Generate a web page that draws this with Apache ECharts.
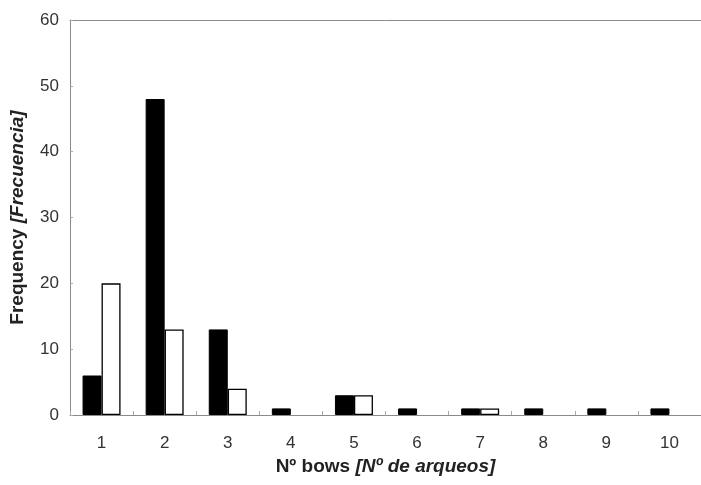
<!DOCTYPE html>
<html>
<head>
<meta charset="utf-8">
<script src="https://cdn.jsdelivr.net/npm/echarts@6/dist/echarts.min.js"></script>
<style>html,body{margin:0;padding:0;background:#fff}#c{width:701px;height:485px}</style>
</head>
<body>
<div id="c"></div>
<script>
var categories = ['1','2','3','4','5','6','7','8','9','10'];
var blackSeries = [6, 48, 13, 1, 3, 1, 1, 1, 1, 1];
var whiteSeries = [20, 13, 4, null, 3, null, 1, null, null, null];
var yTicks = {min: 0, max: 60, interval: 10};

var chart = echarts.init(document.getElementById('c'), null, {renderer: 'canvas'});
var font = 'Liberation Sans, Arial, sans-serif';
chart.setOption({
  animation: false,
  grid: {left: 70, right: 0, top: 20, bottom: 70},
  xAxis: [{
    type: 'category',
    data: categories,
    position: 'bottom',
    axisLine: {lineStyle: {color: '#8a8a8a', width: 1}},
    axisTick: {show: true, inside: true, length: 4, lineStyle: {color: '#aaa'}},
    axisLabel: {color: '#333', fontSize: 17, fontFamily: font, margin: 20},
    name: 'Nº bows {i|[Nº de arqueos]}',
    nameLocation: 'middle',
    nameGap: 38,
    nameTextStyle: {
      color: '#222', fontSize: 19, fontWeight: 'bold', fontFamily: font,
      rich: {i: {fontStyle: 'italic', fontWeight: 'bold', fontSize: 19, fontFamily: font, color: '#222'}}
    }
  }, {
    type: 'category',
    data: categories,
    position: 'top',
    axisLine: {lineStyle: {color: '#8a8a8a', width: 1}},
    axisTick: {show: false},
    axisLabel: {show: false}
  }],
  yAxis: {
    type: 'value',
    min: yTicks.min, max: yTicks.max, interval: yTicks.interval,
    axisLine: {show: true, lineStyle: {color: '#8a8a8a', width: 1}},
    axisTick: {show: true, inside: true, length: 3, lineStyle: {color: '#aaa'}},
    splitLine: {show: false},
    axisLabel: {color: '#333', fontSize: 17, fontFamily: font, margin: 11},
    name: 'Frequency {i|[Frecuencia]}',
    nameLocation: 'middle',
    nameGap: 43,
    nameTextStyle: {
      color: '#222', fontSize: 19, fontWeight: 'bold', fontFamily: font,
      rich: {i: {fontStyle: 'italic', fontWeight: 'bold', fontSize: 19, fontFamily: font, color: '#222'}}
    }
  },
  series: [{
    type: 'bar',
    data: blackSeries,
    barWidth: 19,
    barGap: '0%',
    itemStyle: {color: '#000', borderColor: '#000', borderWidth: 1}
  }, {
    type: 'bar',
    data: whiteSeries,
    barWidth: 19,
    barGap: '0%',
    itemStyle: {color: '#fff', borderColor: '#000', borderWidth: 1.3}
  }]
});
</script>
</body>
</html>
